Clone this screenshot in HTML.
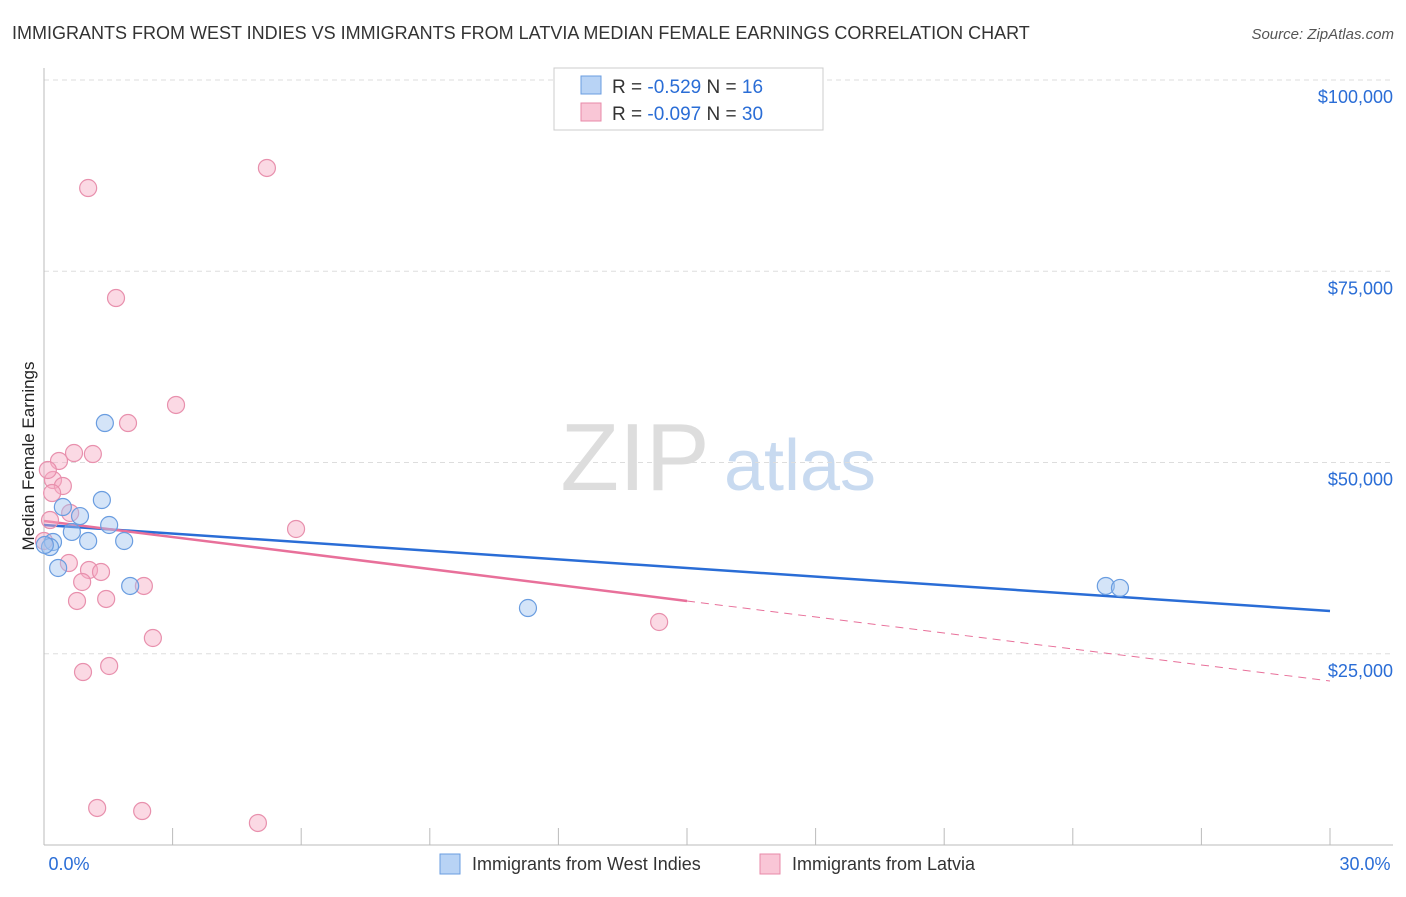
<!DOCTYPE html>
<html><head><meta charset="utf-8"><style>
body{margin:0;background:#fff;font-family:"Liberation Sans",sans-serif}
svg text{font-family:"Liberation Sans",sans-serif}
</style></head><body>
<svg id="chart" width="1406" height="892" xmlns="http://www.w3.org/2000/svg">
<text x="12" y="39" font-size="18" fill="#333">IMMIGRANTS FROM WEST INDIES VS IMMIGRANTS FROM LATVIA MEDIAN FEMALE EARNINGS CORRELATION CHART</text>
<text x="1394" y="39" font-size="15" fill="#555" text-anchor="end" font-style="italic">Source: ZipAtlas.com</text>
<text transform="translate(34,456) rotate(-90)" font-size="17" fill="#222" text-anchor="middle">Median Female Earnings</text>
<g><text x="635" y="490" font-size="96" fill="#ddd" font-family="Liberation Serif" text-anchor="middle">ZIP</text><text x="800" y="490" font-size="72" fill="#c8daf0" text-anchor="middle">atlas</text></g>
<g id="grid"></g><g id="axes"></g><g id="trend"></g><g id="pts"></g>
<g>
<rect x="554" y="68" width="269" height="62" fill="#fff" stroke="#ccc"/>
<rect x="581" y="76" width="20" height="18" fill="#b8d3f5" stroke="#6a9de0"/>
<rect x="581" y="103" width="20" height="18" fill="#f9c6d6" stroke="#e88aa8"/>
<text x="612" y="93" font-size="19" fill="#333">R = <tspan fill="#2a6dd6">-0.529</tspan>   N = <tspan fill="#2a6dd6"> 16</tspan></text>
<text x="612" y="120" font-size="19" fill="#333">R = <tspan fill="#2a6dd6">-0.097</tspan>   N = <tspan fill="#2a6dd6">30</tspan></text>
</g>
<g>
<rect x="440" y="854" width="20" height="20" fill="#b8d3f5" stroke="#6a9de0"/>
<text x="472" y="870" font-size="18" fill="#333">Immigrants from West Indies</text>
<rect x="760" y="854" width="20" height="20" fill="#f9c6d6" stroke="#e88aa8"/>
<text x="792" y="870" font-size="18" fill="#333">Immigrants from Latvia</text>
</g>
</svg>
<script>
const xTicks=[0,30];
const yTicks=[25000,50000,75000,100000];
const yTickLabels=["$25,000","$50,000","$75,000","$100,000"];
const blueX=[1.42,1.35,0.44,0.84,1.52,0.65,0.21,0.14,1.03,1.87,0.33,2.01,11.29,24.77,25.10,0.02];
const blueY=[55160,45100,44180,43000,41830,40920,39610,38950,39740,39740,36210,33860,30980,33860,33600,39220];
const pinkX=[1.03,5.20,1.68,3.08,1.96,0.70,1.14,0.35,0.21,0.44,0.19,0.61,0.14,5.88,0.58,1.05,1.33,0.89,2.33,0.77,1.45,2.54,0.91,1.52,1.24,2.29,4.99,14.35,0.0,0.09];
const pinkY=[85880,88500,71500,57520,55160,51240,51110,50200,47710,46930,46010,43400,42480,41310,36860,35950,35690,34380,33860,31900,32160,27060,22610,23400,4840,4440,2880,29150,39740,49020];
const blueTrend=[41830,30590];
const pinkTrend=[42350,21440];
const NS="http://www.w3.org/2000/svg";
const X=v=>44+v/30*1286, Y=v=>845-v/100000*765;
function mk(t,a,p){const e=document.createElementNS(NS,t);for(const k in a)e.setAttribute(k,a[k]);p.appendChild(e);return e;}
const grid=document.getElementById('grid'),axes=document.getElementById('axes'),tr=document.getElementById('trend'),pts=document.getElementById('pts');
yTicks.forEach((v,i)=>{
 const l=mk('line',{x1:44,x2:1393,y1:Y(v),y2:Y(v),stroke:'#ddd','stroke-dasharray':'5,4'},grid);
 
 
 const t=mk('text',{x:1393,y:Y(v)+23,'font-size':18,fill:'#2a6dd6','text-anchor':'end'},axes);
 t.textContent=yTickLabels[i];
 
 
});
const ax=mk('line',{x1:44,x2:44,y1:68,y2:845,stroke:'#bbb'},axes);


const bx=mk('line',{x1:44,x2:1393,y1:845,y2:845,stroke:'#bbb'},axes);


for(let i=1;i<=10;i++){const tk=mk('line',{x1:X(i*3),x2:X(i*3),y1:828,y2:845,stroke:'#bbb'},axes);
 
 }
xTicks.forEach((v,i)=>{const t=mk('text',{x:X(v)+(i?35:25),y:870,'font-size':18,fill:'#2a6dd6','text-anchor':'middle'},axes);
 t.textContent=v.toFixed(1)+'%';
 
 });
const bl=mk('line',{x1:X(0),y1:Y(blueTrend[0]),x2:X(30),y2:Y(blueTrend[1]),stroke:'#2a6dd6','stroke-width':2.5},tr);


const py=x=>pinkTrend[0]+(pinkTrend[1]-pinkTrend[0])*x/30;
const pl=mk('line',{x1:X(0),y1:Y(py(0)),x2:X(15),y2:Y(py(15)),stroke:'#e8709a','stroke-width':2.5},tr);


const pd=mk('line',{x1:X(15),y1:Y(py(15)),x2:X(30),y2:Y(py(30)),stroke:'#e8709a','stroke-width':1,'stroke-dasharray':'8,6'},tr);


pinkX.forEach((v,i)=>{const c=mk('circle',{cx:X(v),cy:Y(pinkY[i]),r:8.5,fill:'rgba(246,170,195,0.45)',stroke:'#e890ad','stroke-width':1.2},pts);
 
 });
blueX.forEach((v,i)=>{const c=mk('circle',{cx:X(v),cy:Y(blueY[i]),r:8.5,fill:'rgba(160,195,240,0.45)',stroke:'#6a9de0','stroke-width':1.2},pts);
 
 });
</script>
</body></html>
